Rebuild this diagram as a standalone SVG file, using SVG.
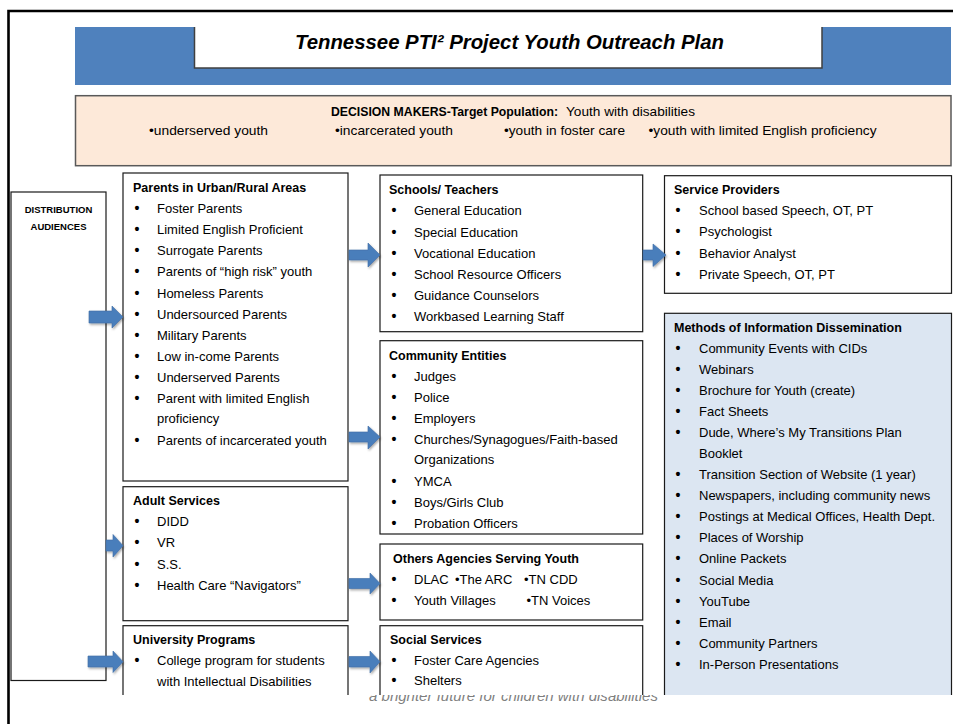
<svg xmlns="http://www.w3.org/2000/svg" width="954" height="724" viewBox="0 0 954 724">
<style>
  text { font-family: "Liberation Sans", Arial, sans-serif; fill: #000; }
  .t { font-size: 13px; }
  .b { font-size: 14px; font-weight: bold; }
  .h { font-size: 12.5px; font-weight: bold; }
  .box { fill: #fff; stroke: #1a1a1a; stroke-width: 1.2; }
  .meth { fill: #DCE6F2; stroke: #1a1a1a; stroke-width: 1.2; }
  .arrow { fill: #4A7EBB; stroke: #3D6CA6; stroke-width: 0.6; filter: url(#sh); }
  .foot { font-size: 14px; font-style: italic; fill: #7F7F7F; }
</style>
<defs>
  <filter id="sh" x="-20%" y="-30%" width="150%" height="170%">
    <feDropShadow dx="1" dy="1.5" stdDeviation="0.8" flood-color="#000" flood-opacity="0.35"/>
  </filter>
  <clipPath id="cut"><rect x="0" y="0" width="954" height="695"/></clipPath>
  <clipPath id="below"><rect x="0" y="695" width="954" height="29"/></clipPath>
</defs>
<rect width="954" height="724" fill="#fff"/>

<!-- slide frame -->
<path d="M8.5,724 V11 H953" fill="none" stroke="#000" stroke-width="2.6"/>

<!-- footer -->
<text class="foot" x="369" y="700.5" textLength="289" lengthAdjust="spacingAndGlyphs" clip-path="url(#below)">a brighter future for children with disabilities</text>

<g id="header">
  <rect x="75" y="27" width="876" height="58" fill="#4F81BD"/>
  <rect x="194.5" y="27" width="627.5" height="41" fill="#fff"/>
  <path d="M194.5,27 V68 H822 V27" fill="none" stroke="#404040" stroke-width="1.5"/>
  <text x="295" y="49" font-size="20" font-weight="bold" font-style="italic" textLength="429" lengthAdjust="spacingAndGlyphs">Tennessee PTI² Project Youth Outreach Plan</text>
</g>

<g id="decision-makers">
  <rect x="75.5" y="95.7" width="875.5" height="70" fill="#FDE9D9" stroke="#595959" stroke-width="1.5"/>
  <text x="331" y="115.5" font-size="12" font-weight="bold" textLength="227" lengthAdjust="spacingAndGlyphs">DECISION MAKERS-Target Population:</text>
  <text class="t" x="566" y="115.5" textLength="129" lengthAdjust="spacingAndGlyphs">Youth with disabilities</text>
  <text class="t" x="149" y="135" textLength="119" lengthAdjust="spacingAndGlyphs">•underserved youth</text>
  <text class="t" x="335" y="135" textLength="118" lengthAdjust="spacingAndGlyphs">•incarcerated youth</text>
  <text class="t" x="504" y="135" textLength="121" lengthAdjust="spacingAndGlyphs">•youth in foster care</text>
  <text class="t" x="648.5" y="135" textLength="228" lengthAdjust="spacingAndGlyphs">•youth with limited English proficiency</text>
</g>

<g id="distribution-audiences">
  <rect class="box" x="11" y="192" width="95" height="488.5"/>
  <text x="58.5" y="212.5" font-size="9.5" font-weight="bold" text-anchor="middle">DISTRIBUTION</text>
  <text x="58.5" y="229.5" font-size="9.5" font-weight="bold" text-anchor="middle">AUDIENCES</text>
</g>

<g id="parents">
  <rect class="box" x="123" y="173" width="225" height="308"/>
  <text class="h" x="133" y="191.5">Parents in Urban/Rural Areas</text>
  <text class="b" x="134.5" y="212.5">•</text><text class="t" x="157" y="212.5">Foster Parents</text>
  <text class="b" x="134.5" y="233.5">•</text><text class="t" x="157" y="233.5">Limited English Proficient</text>
  <text class="b" x="134.5" y="254.5">•</text><text class="t" x="157" y="254.5">Surrogate Parents</text>
  <text class="b" x="134.5" y="275.5">•</text><text class="t" x="157" y="275.5">Parents of “high risk” youth</text>
  <text class="b" x="134.5" y="297.5">•</text><text class="t" x="157" y="297.5">Homeless Parents</text>
  <text class="b" x="134.5" y="318.5">•</text><text class="t" x="157" y="318.5">Undersourced Parents</text>
  <text class="b" x="134.5" y="339.5">•</text><text class="t" x="157" y="339.5">Military Parents</text>
  <text class="b" x="134.5" y="360.5">•</text><text class="t" x="157" y="360.5">Low in-come Parents</text>
  <text class="b" x="134.5" y="381.5">•</text><text class="t" x="157" y="381.5">Underserved Parents</text>
  <text class="b" x="134.5" y="402.5">•</text><text class="t" x="157" y="402.5">Parent with limited English</text>
  <text class="t" x="157" y="422.5">proficiency</text>
  <text class="b" x="134.5" y="444.5">•</text><text class="t" x="157" y="444.5">Parents of incarcerated youth</text>
</g>

<g id="adult-services">
  <rect class="box" x="123" y="486.7" width="225" height="134"/>
  <text class="h" x="133" y="504.5">Adult Services</text>
  <text class="b" x="134.5" y="525.5">•</text><text class="t" x="157" y="525.5">DIDD</text>
  <text class="b" x="134.5" y="546.5">•</text><text class="t" x="157" y="546.5">VR</text>
  <text class="b" x="134.5" y="568.5">•</text><text class="t" x="157" y="568.5">S.S.</text>
  <text class="b" x="134.5" y="589.5">•</text><text class="t" x="157" y="589.5">Health Care “Navigators”</text>
</g>

<g id="university-programs" clip-path="url(#cut)">
  <rect class="box" x="123" y="625.7" width="225" height="90"/>
  <text class="h" x="133" y="643.5">University Programs</text>
  <text class="b" x="134.5" y="664.5">•</text><text class="t" x="157" y="664.5">College program for students</text>
  <text class="t" x="157" y="685.5">with Intellectual Disabilities</text>
</g>

<g id="schools-teachers">
  <rect class="box" x="380" y="175" width="262.7" height="156.7"/>
  <text class="h" x="389" y="193.5">Schools/ Teachers</text>
  <text class="b" x="391.5" y="214.5">•</text><text class="t" x="414" y="214.5">General Education</text>
  <text class="b" x="391.5" y="236.5">•</text><text class="t" x="414" y="236.5">Special Education</text>
  <text class="b" x="391.5" y="257.5">•</text><text class="t" x="414" y="257.5">Vocational Education</text>
  <text class="b" x="391.5" y="278.5">•</text><text class="t" x="414" y="278.5">School Resource Officers</text>
  <text class="b" x="391.5" y="299.5">•</text><text class="t" x="414" y="299.5">Guidance Counselors</text>
  <text class="b" x="391.5" y="320.5">•</text><text class="t" x="414" y="320.5">Workbased Learning Staff</text>
</g>

<g id="community-entities">
  <rect class="box" x="380" y="340.7" width="262.7" height="193.3"/>
  <text class="h" x="389" y="359.5">Community Entities</text>
  <text class="b" x="391.5" y="380.5">•</text><text class="t" x="414" y="380.5">Judges</text>
  <text class="b" x="391.5" y="401.5">•</text><text class="t" x="414" y="401.5">Police</text>
  <text class="b" x="391.5" y="422.5">•</text><text class="t" x="414" y="422.5">Employers</text>
  <text class="b" x="391.5" y="443.5">•</text><text class="t" x="414" y="443.5">Churches/Synagogues/Faith-based</text>
  <text class="t" x="414" y="463.5">Organizations</text>
  <text class="b" x="391.5" y="485.5">•</text><text class="t" x="414" y="485.5">YMCA</text>
  <text class="b" x="391.5" y="506.5">•</text><text class="t" x="414" y="506.5">Boys/Girls Club</text>
  <text class="b" x="391.5" y="527.5">•</text><text class="t" x="414" y="527.5">Probation Officers</text>
</g>

<g id="other-agencies">
  <rect class="box" x="380" y="544" width="262.7" height="76"/>
  <text class="h" x="393" y="562.5">Others Agencies Serving Youth</text>
  <text class="b" x="391.5" y="583.5">•</text><text class="t" x="414" y="583.5">DLAC</text>
  <text class="t" x="455" y="583.5">•The ARC</text>
  <text class="t" x="524" y="583.5">•TN CDD</text>
  <text class="b" x="391.5" y="604.5">•</text><text class="t" x="414" y="604.5">Youth Villages</text>
  <text class="t" x="526.5" y="604.5">•TN Voices</text>
</g>

<g id="social-services" clip-path="url(#cut)">
  <rect class="box" x="380" y="625.7" width="262.7" height="90"/>
  <text class="h" x="390" y="643.5">Social Services</text>
  <text class="b" x="391.5" y="664.5">•</text><text class="t" x="414" y="664.5">Foster Care Agencies</text>
  <text class="b" x="391.5" y="684.5">•</text><text class="t" x="414" y="684.5">Shelters</text>
</g>

<g id="service-providers">
  <rect class="box" x="664.5" y="175.7" width="287" height="117.6"/>
  <text class="h" x="674" y="193.5">Service Providers</text>
  <text class="b" x="675.5" y="214.5">•</text><text class="t" x="699" y="214.5">School based Speech, OT, PT</text>
  <text class="b" x="675.5" y="235.5">•</text><text class="t" x="699" y="235.5">Psychologist</text>
  <text class="b" x="675.5" y="257.5">•</text><text class="t" x="699" y="257.5">Behavior Analyst</text>
  <text class="b" x="675.5" y="278.5">•</text><text class="t" x="699" y="278.5">Private Speech, OT, PT</text>
</g>

<g id="methods" clip-path="url(#cut)">
  <rect class="meth" x="664.5" y="313.3" width="287" height="400"/>
  <text class="h" x="674" y="331.5">Methods of Information Dissemination</text>
  <text class="b" x="675.5" y="352.5">•</text><text class="t" x="699" y="352.5">Community Events with CIDs</text>
  <text class="b" x="675.5" y="373.5">•</text><text class="t" x="699" y="373.5">Webinars</text>
  <text class="b" x="675.5" y="394.5">•</text><text class="t" x="699" y="394.5">Brochure for Youth (create)</text>
  <text class="b" x="675.5" y="415.5">•</text><text class="t" x="699" y="415.5">Fact Sheets</text>
  <text class="b" x="675.5" y="437">•</text><text class="t" x="699" y="437">Dude, Where’s My Transitions Plan</text>
  <text class="t" x="699" y="458">Booklet</text>
  <text class="b" x="675.5" y="479">•</text><text class="t" x="699" y="479">Transition Section of  Website (1 year)</text>
  <text class="b" x="675.5" y="500">•</text><text class="t" x="699" y="500">Newspapers, including community news</text>
  <text class="b" x="675.5" y="521">•</text><text class="t" x="699" y="521">Postings at Medical Offices, Health Dept.</text>
  <text class="b" x="675.5" y="542">•</text><text class="t" x="699" y="542">Places of Worship</text>
  <text class="b" x="675.5" y="563">•</text><text class="t" x="699" y="563">Online Packets</text>
  <text class="b" x="675.5" y="584.5">•</text><text class="t" x="699" y="584.5">Social Media</text>
  <text class="b" x="675.5" y="605.5">•</text><text class="t" x="699" y="605.5">YouTube</text>
  <text class="b" x="675.5" y="626.5">•</text><text class="t" x="699" y="626.5">Email</text>
  <text class="b" x="675.5" y="647.5">•</text><text class="t" x="699" y="647.5">Community Partners</text>
  <text class="b" x="675.5" y="668.5">•</text><text class="t" x="699" y="668.5">In-Person Presentations</text>
</g>

<g id="connectors">
  <polygon class="arrow" points="89,311 112,311 112,306 123,317 112,328 112,323 89,323"/>
  <polygon class="arrow" points="106,540 113,540 113,534.5 123,545.7 113,557 113,551 106,551"/>
  <polygon class="arrow" points="88,656 113,656 113,651 123,661.7 113,672.5 113,667 88,667"/>
  <polygon class="arrow" points="349,250 368,250 368,243 380,255 368,267 368,260 349,260"/>
  <polygon class="arrow" points="349,432 368,432 368,426 380,437 368,449 368,442 349,442"/>
  <polygon class="arrow" points="349,578.5 370,578.5 370,573 380,583.5 370,594 370,588.5 349,588.5"/>
  <polygon class="arrow" points="349,656.5 370,656.5 370,651 380,661.7 370,673 370,667 349,667"/>
  <polygon class="arrow" points="643,250 653,250 653,244 666,255 653,266.5 653,260 643,260"/>
</g>
</svg>
